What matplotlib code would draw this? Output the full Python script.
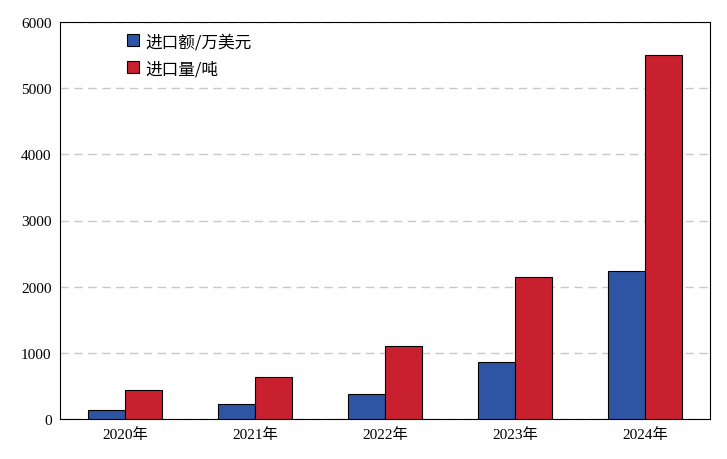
import matplotlib

matplotlib.use("Agg")
import matplotlib.pyplot as plt
from matplotlib import font_manager
import numpy as np

# find a CJK font actually installed
cjk_name = None
for f in font_manager.fontManager.ttflist:
    if "CJK" in f.name and ("SC" in f.name or "JP" in f.name):
        cjk_name = f.name
        break
if cjk_name is None:
    for path in font_manager.findSystemFonts():
        if "CJK" in path:
            font_manager.fontManager.addfont(path)
            cjk_name = font_manager.FontProperties(fname=path).get_name()
            break
fams = ["Liberation Serif"] + ([cjk_name] if cjk_name else [])
plt.rcParams["font.family"] = fams

years = ["2020年", "2021年", "2022年", "2023年", "2024年"]
import_value = [136, 227, 378, 861, 2236]      # 进口额/万美元
import_volume = [438, 634, 1103, 2145, 5500]   # 进口量/吨

fig = plt.figure(figsize=(7.27, 4.60), dpi=100)
ax = fig.add_axes([60 / 727, 40 / 460, 650 / 727, 397 / 460])

x = np.arange(len(years))
w = 0.285
ax.bar(x - w / 2, import_value, w, color="#2E55A4", edgecolor="black", linewidth=0.8,
       label="进口额/万美元", zorder=3)
ax.bar(x + w / 2, import_volume, w, color="#C8202F", edgecolor="black", linewidth=0.8,
       label="进口量/吨", zorder=3)

ax.set_xlim(-0.5, len(years) - 0.5)
ax.set_ylim(0, 6000)
ax.set_yticks(range(0, 6001, 1000))
ax.set_xticks(x, labels=years)
ax.tick_params(axis="both", labelsize=11, length=0, pad=6)
ax.grid(axis="y", color="#c8c8c8", linestyle=(0, (6, 4)), linewidth=1, zorder=0)
for s in ax.spines.values():
    s.set_color("black")
    s.set_linewidth(0.8)

ax.legend(loc="upper left", bbox_to_anchor=(0.08, 1.01), frameon=False,
          prop={"family": [cjk_name] if cjk_name else fams, "size": 12},
          handlelength=0.7, handleheight=0.7, labelspacing=0.6, handletextpad=0.4)

fig.savefig("out.png", dpi=100)
